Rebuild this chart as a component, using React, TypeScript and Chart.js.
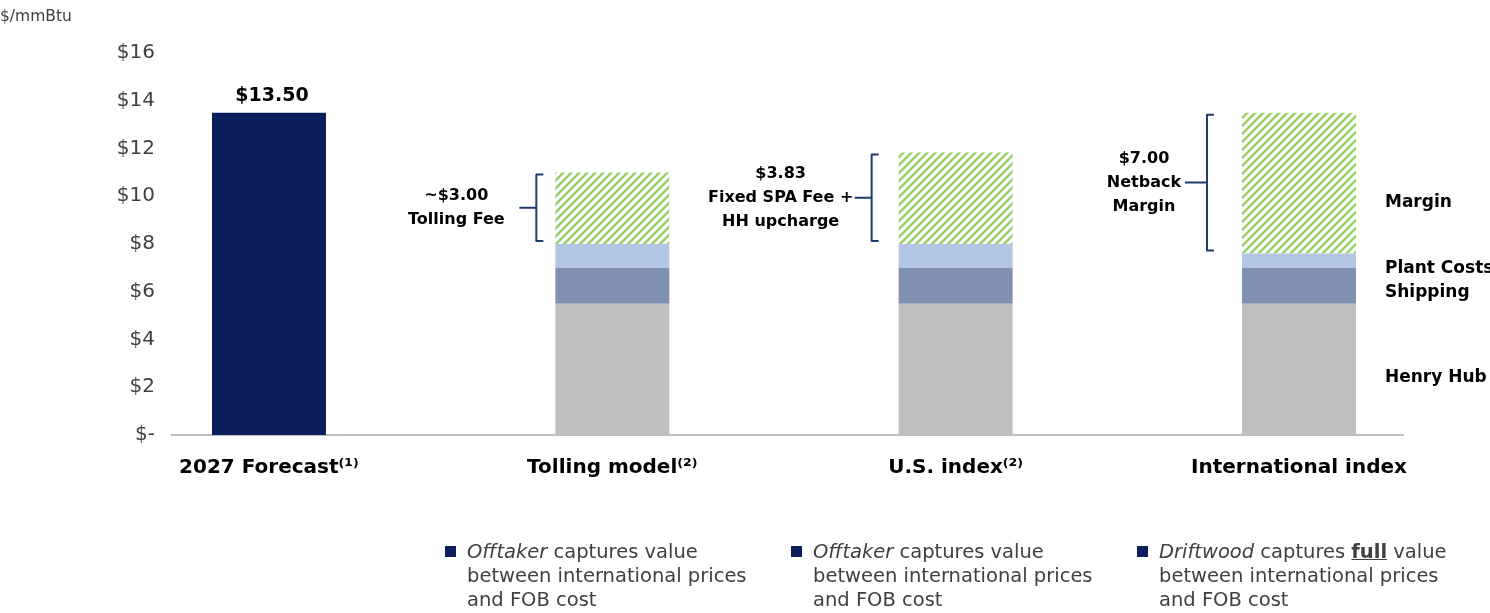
import React, { useEffect, useRef } from 'react';
import { Chart, registerables } from 'chart.js';

Chart.register(...registerables);

const FONT = '"DejaVu Sans", Verdana, sans-serif';

const categories = ['2027 Forecast⁽¹⁾', 'Tolling model⁽²⁾', 'U.S. index⁽²⁾', 'International index'];
const forecast = [13.5, null, null, null];
const henryHub = [null, 5.5, 5.5, 5.5];
const shipping = [null, 1.5, 1.5, 1.5];
const plantCosts = [null, 1.0, 1.0, 0.6];
const margin = [null, 3.0, 3.83, 5.9];
const yTickValues = [0, 2, 4, 6, 8, 10, 12, 14, 16];
const yTickLabels = ['$-', '$2', '$4', '$6', '$8', '$10', '$12', '$14', '$16'];
const forecastLabel = '$13.50';
const bracketTexts = [
  ['~$3.00', 'Tolling Fee'],
  ['$3.83', 'Fixed SPA Fee +', 'HH upcharge'],
  ['$7.00', 'Netback', 'Margin'],
];
const bracketCategories = [1, 2, 3];
const seriesLabelValues = [9.72, 6.95, 5.95, 2.4]; // Margin, Plant Costs, Shipping, Henry Hub

function makeHatch(): CanvasPattern | string {
  const c = document.createElement('canvas');
  c.width = 8;
  c.height = 8;
  const g = c.getContext('2d');
  if (!g) return '#92D050';
  g.fillStyle = '#ffffff';
  g.fillRect(0, 0, 8, 8);
  g.strokeStyle = '#96D163';
  g.lineWidth = 2.4;
  g.beginPath();
  g.moveTo(-1, 9); g.lineTo(9, -1);
  g.moveTo(-5, 5); g.lineTo(5, -5);
  g.moveTo(3, 13); g.lineTo(13, 3);
  g.stroke();
  return g.createPattern(c, 'repeat') || '#92D050';
}

const overlayPlugin = {
  id: 'overlay',
  afterDatasetsDraw(chart: any) {
    const ctx = chart.ctx;
    const yScale = chart.scales.y;
    ctx.save();
    // unit title
    ctx.fillStyle = '#404040';
    ctx.font = `15.5px ${FONT}`;
    ctx.textAlign = 'left';
    ctx.textBaseline = 'middle';
    ctx.fillText('$/mmBtu', 0, 17);

    // forecast data label
    const fEl = chart.getDatasetMeta(0).data[0];
    ctx.fillStyle = '#000';
    ctx.font = `bold 19px ${FONT}`;
    ctx.textAlign = 'center';
    ctx.fillText(forecastLabel, fEl.x + 3, fEl.y - 17);

    // brackets
    const marginMeta = chart.getDatasetMeta(4);
    const bracketGap = [19, 27, 35];
    const textGap = [99, 118, 98];
    const tickLen = [17, 17, 22];
    bracketTexts.forEach((lines, k) => {
      const el = marginMeta.data[bracketCategories[k]];
      const left = el.x - el.width / 2;
      const bx = left - bracketGap[k];
      const top = el.y + 2;
      const bottom = el.base - 3;
      const mid = (top + bottom) / 2;
      ctx.strokeStyle = '#1F3A6E';
      ctx.lineWidth = 2;
      ctx.lineJoin = 'round';
      ctx.beginPath();
      ctx.moveTo(bx + 7, top);
      ctx.lineTo(bx, top);
      ctx.lineTo(bx, bottom);
      ctx.lineTo(bx + 7, bottom);
      ctx.moveTo(bx - tickLen[k], mid);
      ctx.lineTo(bx, mid);
      ctx.stroke();
      ctx.fillStyle = '#000';
      ctx.font = `bold 16px ${FONT}`;
      ctx.textAlign = 'center';
      ctx.textBaseline = 'middle';
      const lh = 24;
      const startY = mid - ((lines.length - 1) * lh) / 2;
      lines.forEach((t, i) => ctx.fillText(t, left - textGap[k], startY + i * lh));
    });

    // series labels at right
    const lastEl = marginMeta.data[3];
    const lx = lastEl.x + lastEl.width / 2 + 29;
    const labels = [chart.data.datasets[4].label, chart.data.datasets[3].label, chart.data.datasets[2].label, chart.data.datasets[1].label];
    ctx.fillStyle = '#000';
    ctx.font = `bold 17px ${FONT}`;
    ctx.textAlign = 'left';
    ctx.textBaseline = 'middle';
    labels.forEach((t, i) => ctx.fillText(t, lx, yScale.getPixelForValue(seriesLabelValues[i])));
    ctx.restore();
  },
};

export default function App() {
  const ref = useRef<HTMLCanvasElement | null>(null);

  useEffect(() => {
    if (!ref.current) return;
    const pts = (arr: (number | null)[]) => categories.map((_, i) => ({ x: i, y: arr[i] }));
    const chart = new Chart(ref.current, {
      type: 'bar',
      data: {
        datasets: [
          { label: '2027 Forecast', data: pts(forecast) as any, backgroundColor: '#0C1F5C' },
          { label: 'Henry Hub', data: pts(henryHub) as any, backgroundColor: '#BFBFBF' },
          { label: 'Shipping', data: pts(shipping) as any, backgroundColor: '#7F90B2' },
          { label: 'Plant Costs', data: pts(plantCosts) as any, backgroundColor: '#B4C6E6' },
          { label: 'Margin', data: pts(margin) as any, backgroundColor: makeHatch() as any },
        ],
      },
      options: {
        animation: false,
        responsive: false,
        events: [],
        layout: { padding: { top: 53, right: 87, left: 0, bottom: 0 } },
        datasets: { bar: { barPercentage: 0.332, categoryPercentage: 1, borderWidth: 0 } },
        plugins: { legend: { display: false }, tooltip: { enabled: false } },
        scales: {
          x: {
            type: 'linear',
            stacked: true,
            offset: false,
            min: -0.2825,
            max: 3.303,
            afterBuildTicks: (s: any) => {
              s.ticks = categories.map((_, i) => ({ value: i }));
            },
            afterFit: (s: any) => {
              s.height = 178;
            },
            ticks: {
              autoSkip: false,
              maxRotation: 0,
              padding: 21,
              color: '#000',
              font: { family: FONT, size: 20, weight: 'bold' },
              callback: (v: any) => categories[v] ?? '',
            },
            grid: { display: false, drawTicks: false, offset: false },
            border: { display: true, color: '#BFBFBF', width: 2 },
          },
          y: {
            stacked: true,
            min: 0,
            max: 16,
            afterBuildTicks: (s: any) => {
              s.ticks = yTickValues.map((v) => ({ value: v }));
            },
            afterFit: (s: any) => {
              s.width = 172;
            },
            ticks: {
              padding: 17,
              color: '#404040',
              font: { family: FONT, size: 20 },
              callback: (v: any) => yTickLabels[yTickValues.indexOf(v)] ?? '',
            },
            grid: { display: false, drawTicks: false },
            border: { display: false },
          },
        },
      },
      plugins: [overlayPlugin],
    } as any);
    return () => chart.destroy();
  }, []);

  const noteStyle: React.CSSProperties = {
    position: 'absolute',
    top: 540,
    fontFamily: FONT,
    fontSize: 19.5,
    lineHeight: '24px',
    color: '#404040',
    whiteSpace: 'nowrap',
  };
  const bullet = (left: number): React.CSSProperties => ({
    position: 'absolute',
    left,
    top: 546,
    width: 11,
    height: 11,
    background: '#0C1F5C',
  });

  return (
    <div style={{ position: 'fixed', left: 0, top: 0, width: 1490, height: 613, background: '#fff', overflow: 'hidden' }}>
      <canvas ref={ref} width={1490} height={613} style={{ position: 'absolute', left: 0, top: 0, width: 1490, height: 613 }} />
      <div style={bullet(445)} />
      <div style={{ ...noteStyle, left: 467 }}>
        <i>Offtaker</i> captures value<br />between international prices<br />and FOB cost
      </div>
      <div style={bullet(791)} />
      <div style={{ ...noteStyle, left: 813 }}>
        <i>Offtaker</i> captures value<br />between international prices<br />and FOB cost
      </div>
      <div style={bullet(1137)} />
      <div style={{ ...noteStyle, left: 1159 }}>
        <i>Driftwood</i> captures <b><u>full</u></b> value<br />between international prices<br />and FOB cost
      </div>
    </div>
  );
}
